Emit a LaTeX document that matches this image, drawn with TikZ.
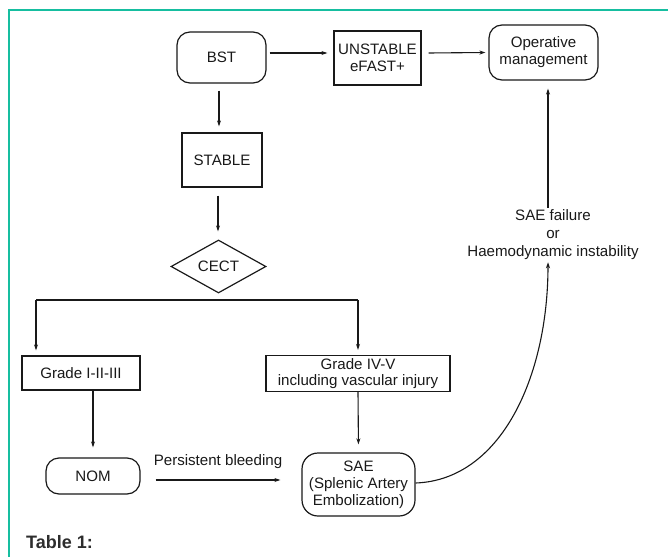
\documentclass[tikz,border=0pt]{standalone}
\usepackage{fontspec}
\setmainfont{Liberation Sans}
\usetikzlibrary{shapes.geometric,arrows.meta}
\definecolor{tealframe}{RGB}{22,190,160}
\definecolor{ink}{RGB}{25,25,25}
\begin{document}
\begin{tikzpicture}[x=1pt,y=-1pt,
  every node/.style={font=\fontsize{15.1}{17}\selectfont, inner sep=0pt, align=center, text=ink},
  sqbox/.style={draw=ink, line width=1.2pt},
  rbox/.style={draw=ink, line width=1.2pt, rounded corners=13pt},
  conn/.style={draw=ink, line width=1.1pt},
  arr/.style={conn, -{Stealth[length=6pt,width=4pt]}}
]
\useasboundingbox (0,0) rectangle (668,556);
\fill[white] (0,0) rectangle (668,556);
\draw[tealframe, line width=2pt] (9,560) -- (9,10) -- (670,10);

% nodes
\node[rbox, minimum width=89pt, minimum height=51pt] (bst) at (221.5,57.5) {BST};
\node[sqbox, minimum width=87pt, minimum height=54pt] (uns) at (377.5,58) {UNSTABLE\\eFAST+};
\node[rbox, minimum width=109pt, minimum height=55pt] (om) at (543.5,52.5) {Operative\\management};
\node[sqbox, minimum width=80pt, minimum height=54pt] (stable) at (222,160) {STABLE};
\node[diamond, aspect=1.8, draw=ink, line width=1.2pt, minimum width=95pt, minimum height=53pt] (cect) at (218.5,266.5) {CECT};
\node[sqbox, minimum width=118pt, minimum height=34pt] (g13) at (81,373) {Grade I-II-III};
\node[sqbox, minimum width=184pt, minimum height=36pt, font=\fontsize{15.1}{15.5}\selectfont] (g45) at (358,373.5) {Grade IV-V\\including vascular injury};
\node[rbox, minimum width=94pt, minimum height=36pt] (nom) at (93,476) {NOM};
\node[rbox, rounded corners=16pt, minimum width=113pt, minimum height=63pt] (sae) at (358.5,484.5) {SAE\\(Splenic Artery\\Embolization)};
\node[inner sep=2pt, font=\fontsize{15.1}{18}\selectfont] (lbl) at (553,235) {SAE failure\\or\\Haemodynamic instability};
\node (pb) at (218,462) {Persistent bleeding};
\node[anchor=base west, font=\bfseries\fontsize{18}{20}\selectfont, text={rgb,255:red,45;green,45;blue,45}] (tab) at (26,548) {Table 1:};

\coordinate (hl) at (36,300);
\coordinate (hr) at (358,300);

% connectors
\draw[arr] ([xshift=3pt,yshift=4.5pt]bst.east) -- ([xshift=-6pt,yshift=5pt]uns.west);
\draw[arr] ([xshift=7pt,yshift=5pt]uns.east) -- ([xshift=-3pt]om.west);
\draw[arr] ([xshift=-2.5pt,yshift=-7pt]bst.south) -- ([xshift=-3pt,yshift=6pt]stable.north);
\draw[arr] ([xshift=-4pt,yshift=-8pt]stable.south) -- ([xshift=-0.5pt,yshift=8pt]cect.north);
\draw[conn] (hl) -- (hr);
\draw[arr, shorten >=5pt] (hl) -- (hl |- g13.north);
\draw[arr, shorten >=5pt] (hr) -- (g45.north);
\draw[arr, shorten >=10pt] (nom.north |- g13.south) -- (nom.north);
\draw[arr, shorten >=8pt] (g45.south) -- (sae.north);
\draw[arr] ([xshift=15pt,yshift=-4pt]nom.east) -- ([xshift=-21pt,yshift=4.5pt]sae.west);
\draw[arr] ([yshift=1.5pt]sae.east) .. controls +(85,-3) and +(0,115) .. ([xshift=-5pt]lbl.south);
\draw[arr, shorten >=8pt] ([xshift=-5pt]lbl.north) -- ([xshift=-5pt]lbl.north |- om.south);
\end{tikzpicture}
\end{document}
